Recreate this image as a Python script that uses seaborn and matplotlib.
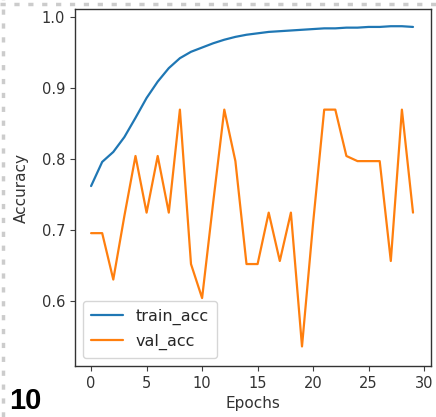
import numpy as np
import pandas as pd
import matplotlib
matplotlib.use("Agg")
import matplotlib.pyplot as plt
from matplotlib.lines import Line2D
import seaborn as sns

epochs = list(range(30))
train_acc = [0.762, 0.796, 0.810, 0.831, 0.858, 0.886, 0.909, 0.928, 0.942, 0.951,
             0.957, 0.963, 0.968, 0.972, 0.975, 0.977, 0.979, 0.980, 0.981, 0.982,
             0.983, 0.984, 0.984, 0.985, 0.985, 0.986, 0.986, 0.987, 0.987, 0.986]
val_acc = [0.6957, 0.6957, 0.6304, 0.7200, 0.8043, 0.7246, 0.8043, 0.7246, 0.8696, 0.6522,
           0.6043, 0.7391, 0.8696, 0.7971, 0.6522, 0.6522, 0.7246, 0.6565, 0.7246, 0.5362,
           0.7100, 0.8696, 0.8696, 0.8043, 0.7971, 0.7971, 0.7971, 0.6565, 0.8696, 0.7246]
series_names = ["train_acc", "val_acc"]
series_colors = ["#1f77b4", "#ff7f0e"]
y_ticks = [0.6, 0.7, 0.8, 0.9, 1.0]
x_ticks = [0, 5, 10, 15, 20, 25, 30]
panel_label = "10"

df = pd.DataFrame({
    "Epochs": epochs * 2,
    "Accuracy": train_acc + val_acc,
    "series": [series_names[0]] * len(epochs) + [series_names[1]] * len(epochs),
})

sns.set_style("ticks")
plt.rcParams["font.family"] = ["DejaVu Sans"]

fig = plt.figure(figsize=(4.36, 4.17), dpi=100)
ax = fig.add_axes([0.172, 0.122, 0.816, 0.856])

sns.lineplot(data=df, x="Epochs", y="Accuracy", hue="series",
             palette=series_colors, linewidth=1.6, ax=ax)

ax.set_xticks(x_ticks)
ax.set_yticks(y_ticks)
ax.set_xlim(-1.45, 30.6)
ax.set_ylim(0.5085, 1.011)
ax.tick_params(labelsize=10.5, colors=".25", labelcolor=".2")
for s in ax.spines.values():
    s.set_color(".2")
    s.set_linewidth(1.0)
ax.set_xlabel("Epochs", fontsize=11, color=".2", labelpad=4)
ax.set_ylabel("Accuracy", fontsize=11, color=".2", labelpad=9)
ax.legend(loc="lower left", fontsize=11.5, title=None, frameon=True,
          borderpad=0.5, labelspacing=0.55, handlelength=2.0)

# dotted page border along top and left edges
fig.add_artist(Line2D([0.0, 1.0], [0.991, 0.991], transform=fig.transFigure,
                      color="#cccccc", linestyle=(0, (1.5, 2.5)), linewidth=2.5))
fig.add_artist(Line2D([0.007, 0.007], [0.0, 1.0], transform=fig.transFigure,
                      color="#cccccc", linestyle=(0, (1.5, 2.5)), linewidth=2.5))

fig.text(0.02, 0.019, panel_label, fontsize=21, fontweight="bold",
         family=["Liberation Sans", "DejaVu Sans"], color="black")

fig.savefig("out.png", dpi=100)
